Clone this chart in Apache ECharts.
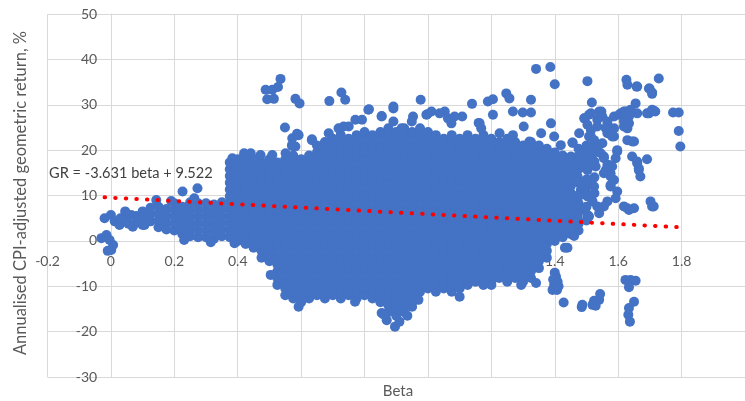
<!DOCTYPE html>
<html><head><meta charset="utf-8">
<script src="https://cdn.jsdelivr.net/npm/echarts@6/dist/echarts.min.js"></script>
<style>html,body{margin:0;padding:0;background:#fff}#c{width:745px;height:401px}</style>
</head><body><div id="c"></div>
<script>
// ---- data ----
const xTitle = 'Beta';
const yTitle = 'Annualised CPI-adjusted geometric return, %';
const equationText = 'GR = -3.631 beta + 9.522';

// left tail of the cloud (beta, list of returns)
const tailBeta = [0.08, 0.1, 0.125, 0.15, 0.175, 0.2, 0.225, 0.25, 0.275, 0.3, 0.325, 0.35, 0.375];
const tailReturns = [
  [4,5.5],
  [3.5,5,6.5],
  [4.3,5.8,7.3],
  [3,4.5,6,7.5],
  [2.5,4,5.5,7],
  [2.3,3.8,5.3,6.8,8.3],
  [1.5,3,4.5,6,7.5],
  [1,2.5,4,5.5,7,8.5],
  [0.8,2.3,3.8,5.3,6.8,8.3],
  [0.8,2.3,3.8,5.3,6.8,8.3],
  [0.5,2,3.5,5,6.5,8],
  [1,2.5,4,5.5,7,8.5],
  [0.8,2.3,3.8,5.3,6.8,8.3,9.8,11.3,12.8,14.3,15.8,17.3]
];

// dense core of the cloud (beta, list of returns)
const coreBeta = [0.4,0.425,0.45,0.475,0.5,0.525,0.55,0.575,0.6,0.625,0.65,0.675,0.7,0.725,0.75,0.775,0.8,0.825,0.85,0.875,0.9,0.925,0.95,0.975,1,1.025,1.05,1.075,1.1,1.125,1.15,1.175,1.2,1.225,1.25,1.275,1.3,1.325,1.35,1.375,1.4,1.425];
const coreReturns = [
  [0,1.5,3,4.5,6,7.5,9,10.5,12,13.5,15,16.5,18],
  [-0.7,0.8,2.3,3.8,5.3,6.8,8.3,9.8,11.3,12.8,14.3,15.8,17.3,18.8],
  [-1.5,0,1.5,3,4.5,6,7.5,9,10.5,12,13.5,15,16.5,18],
  [-3.7,-2.2,-0.7,0.8,2.3,3.8,5.3,6.8,8.3,9.8,11.3,12.8,14.3,15.8,17.3],
  [-4.5,-3,-1.5,0,1.5,3,4.5,6,7.5,9,10.5,12,13.5,15,16.5,18],
  [-9.7,-8.2,-6.7,-5.2,-3.7,-2.2,-0.7,0.8,2.3,3.8,5.3,6.8,8.3,9.8,11.3,12.8,14.3,15.8,17.3],
  [-12,-10.5,-9,-7.5,-6,-4.5,-3,-1.5,0,1.5,3,4.5,6,7.5,9,10.5,12,13.5,15,16.5,18],
  [-12.7,-11.2,-9.7,-8.2,-6.7,-5.2,-3.7,-2.2,-0.7,0.8,2.3,3.8,5.3,6.8,8.3,9.8,11.3,12.8,14.3,15.8,17.3,18.8],
  [-13.5,-12,-10.5,-9,-7.5,-6,-4.5,-3,-1.5,0,1.5,3,4.5,6,7.5,9,10.5,12,13.5,15,16.5,18],
  [-12.7,-11.2,-9.7,-8.2,-6.7,-5.2,-3.7,-2.2,-0.7,0.8,2.3,3.8,5.3,6.8,8.3,9.8,11.3,12.8,14.3,15.8,17.3,18.8],
  [-12,-10.5,-9,-7.5,-6,-4.5,-3,-1.5,0,1.5,3,4.5,6,7.5,9,10.5,12,13.5,15,16.5,18,19.5,21],
  [-12.7,-11.2,-9.7,-8.2,-6.7,-5.2,-3.7,-2.2,-0.7,0.8,2.3,3.8,5.3,6.8,8.3,9.8,11.3,12.8,14.3,15.8,17.3,18.8,20.3,21.8],
  [-12,-10.5,-9,-7.5,-6,-4.5,-3,-1.5,0,1.5,3,4.5,6,7.5,9,10.5,12,13.5,15,16.5,18,19.5,21,22.5],
  [-12.7,-11.2,-9.7,-8.2,-6.7,-5.2,-3.7,-2.2,-0.7,0.8,2.3,3.8,5.3,6.8,8.3,9.8,11.3,12.8,14.3,15.8,17.3,18.8,20.3,21.8,23.3],
  [-12,-10.5,-9,-7.5,-6,-4.5,-3,-1.5,0,1.5,3,4.5,6,7.5,9,10.5,12,13.5,15,16.5,18,19.5,21,22.5],
  [-12.7,-11.2,-9.7,-8.2,-6.7,-5.2,-3.7,-2.2,-0.7,0.8,2.3,3.8,5.3,6.8,8.3,9.8,11.3,12.8,14.3,15.8,17.3,18.8,20.3,21.8,23.3],
  [-12,-10.5,-9,-7.5,-6,-4.5,-3,-1.5,0,1.5,3,4.5,6,7.5,9,10.5,12,13.5,15,16.5,18,19.5,21,22.5,24],
  [-12.7,-11.2,-9.7,-8.2,-6.7,-5.2,-3.7,-2.2,-0.7,0.8,2.3,3.8,5.3,6.8,8.3,9.8,11.3,12.8,14.3,15.8,17.3,18.8,20.3,21.8,23.3],
  [-13.5,-12,-10.5,-9,-7.5,-6,-4.5,-3,-1.5,0,1.5,3,4.5,6,7.5,9,10.5,12,13.5,15,16.5,18,19.5,21,22.5,24],
  [-15.7,-14.2,-12.7,-11.2,-9.7,-8.2,-6.7,-5.2,-3.7,-2.2,-0.7,0.8,2.3,3.8,5.3,6.8,8.3,9.8,11.3,12.8,14.3,15.8,17.3,18.8,20.3,21.8,23.3,24.8],
  [-16.5,-15,-13.5,-12,-10.5,-9,-7.5,-6,-4.5,-3,-1.5,0,1.5,3,4.5,6,7.5,9,10.5,12,13.5,15,16.5,18,19.5,21,22.5,24],
  [-15.7,-14.2,-12.7,-11.2,-9.7,-8.2,-6.7,-5.2,-3.7,-2.2,-0.7,0.8,2.3,3.8,5.3,6.8,8.3,9.8,11.3,12.8,14.3,15.8,17.3,18.8,20.3,21.8,23.3,24.8],
  [-13.5,-12,-10.5,-9,-7.5,-6,-4.5,-3,-1.5,0,1.5,3,4.5,6,7.5,9,10.5,12,13.5,15,16.5,18,19.5,21,22.5,24],
  [-11.2,-9.7,-8.2,-6.7,-5.2,-3.7,-2.2,-0.7,0.8,2.3,3.8,5.3,6.8,8.3,9.8,11.3,12.8,14.3,15.8,17.3,18.8,20.3,21.8,23.3,24.8],
  [-10.5,-9,-7.5,-6,-4.5,-3,-1.5,0,1.5,3,4.5,6,7.5,9,10.5,12,13.5,15,16.5,18,19.5,21,22.5,24],
  [-11.2,-9.7,-8.2,-6.7,-5.2,-3.7,-2.2,-0.7,0.8,2.3,3.8,5.3,6.8,8.3,9.8,11.3,12.8,14.3,15.8,17.3,18.8,20.3,21.8,23.3],
  [-10.5,-9,-7.5,-6,-4.5,-3,-1.5,0,1.5,3,4.5,6,7.5,9,10.5,12,13.5,15,16.5,18,19.5,21,22.5],
  [-11.2,-9.7,-8.2,-6.7,-5.2,-3.7,-2.2,-0.7,0.8,2.3,3.8,5.3,6.8,8.3,9.8,11.3,12.8,14.3,15.8,17.3,18.8,20.3,21.8,23.3],
  [-10.5,-9,-7.5,-6,-4.5,-3,-1.5,0,1.5,3,4.5,6,7.5,9,10.5,12,13.5,15,16.5,18,19.5,21,22.5],
  [-9.7,-8.2,-6.7,-5.2,-3.7,-2.2,-0.7,0.8,2.3,3.8,5.3,6.8,8.3,9.8,11.3,12.8,14.3,15.8,17.3,18.8,20.3,21.8,23.3],
  [-9,-7.5,-6,-4.5,-3,-1.5,0,1.5,3,4.5,6,7.5,9,10.5,12,13.5,15,16.5,18,19.5,21,22.5],
  [-9.7,-8.2,-6.7,-5.2,-3.7,-2.2,-0.7,0.8,2.3,3.8,5.3,6.8,8.3,9.8,11.3,12.8,14.3,15.8,17.3,18.8,20.3,21.8,23.3],
  [-9,-7.5,-6,-4.5,-3,-1.5,0,1.5,3,4.5,6,7.5,9,10.5,12,13.5,15,16.5,18,19.5,21,22.5],
  [-8.2,-6.7,-5.2,-3.7,-2.2,-0.7,0.8,2.3,3.8,5.3,6.8,8.3,9.8,11.3,12.8,14.3,15.8,17.3,18.8,20.3,21.8],
  [-9,-7.5,-6,-4.5,-3,-1.5,0,1.5,3,4.5,6,7.5,9,10.5,12,13.5,15,16.5,18,19.5,21,22.5],
  [-8.2,-6.7,-5.2,-3.7,-2.2,-0.7,0.8,2.3,3.8,5.3,6.8,8.3,9.8,11.3,12.8,14.3,15.8,17.3,18.8,20.3,21.8],
  [-9,-7.5,-6,-4.5,-3,-1.5,0,1.5,3,4.5,6,7.5,9,10.5,12,13.5,15,16.5,18,19.5,21],
  [-8.2,-6.7,-5.2,-3.7,-2.2,-0.7,0.8,2.3,3.8,5.3,6.8,8.3,9.8,11.3,12.8,14.3,15.8,17.3,18.8,20.3,21.8],
  [-6,-4.5,-3,-1.5,0,1.5,3,4.5,6,7.5,9,10.5,12,13.5,15,16.5,18,19.5,21],
  [-3.7,-2.2,-0.7,0.8,2.3,3.8,5.3,6.8,8.3,9.8,11.3,12.8,14.3,15.8,17.3,18.8,20.3],
  [0,1.5,3,4.5,6,7.5,9,10.5,12,13.5,15,16.5,18,19.5],
  [0.8,2.3,3.8,5.3,6.8,8.3,9.8,11.3,12.8,14.3,15.8,17.3,18.8]
];

// individual points outside the dense core: [beta, return]
const outlierPoints = [
  [-0.03,0.6],[-0.014,1.3],[-0.004,0.2],[0.007,-0.9],[0.001,-2],[-0.01,-2.2],[-0.02,5],[0,5.7],[0.012,4.3],[0.027,3.5],[0.049,4.6],[0.064,5.7],[0.069,3.1],[0.03,5],[0.045,6.5],[0.055,3.8],
  [0.143,9],[0.226,10.9],[0.273,11.6],[0.263,9.4],[0.19,8.8],[0.106,3.5],[0.231,0.2],[0.315,-0.3],[0.39,-0.5],
  [0.535,35.7],[0.527,33.9],[0.488,33.3],[0.509,33.3],[0.493,31.2],[0.514,31.3],[0.582,31.3],[0.595,30.3],[0.549,25],[0.572,22.6],[0.587,23.6],[0.572,20.9],[0.634,22.4],
  [0.689,30.8],[0.727,32.7],[0.739,31.1],[0.814,29],[0.891,29.2],[0.854,27.5],[0.977,31.1],[0.998,27.9],[1.053,28.5],[1.037,28.1],[1.139,30.2],[1.189,30.7],[1.205,31.2],[1.205,27.8],[1.108,27.4],[0.953,27.4],[1.16,26],[1.168,24.8],
  [1.247,32.5],[1.257,31.4],[1.325,31.1],[1.268,28.5],[1.299,28.3],[1.325,28.3],[1.302,25.2],[1.163,25.9],[1.388,25.9],[1.456,21.7],[0.949,26.3],[0.995,27.8],[1.011,28.5],[1.084,27.4],[1.074,25.9],[1.226,23.7],[1.268,23.3],[1.32,21.9],[1.357,23.7],[1.398,23],[1.419,21.1],
  [0.383,18.2],[0.42,19.3],[0.441,19.3],[0.472,18.9],[0.509,18.9],[0.551,19.3],[0.582,20.8],[0.571,21.1],[0.592,23.3],[0.634,22.2],[0.687,23.7],[0.718,24.8],[0.75,25.2],[0.771,26.7],[0.792,26.7],[0.812,28.9],[0.854,27.4],[0.891,29.6],[0.891,26.3],[0.922,24.4],[0.734,25.2],[0.917,24.8],[1.063,27],
  [1.341,37.9],[1.386,38.3],[1.4,34.5],[1.503,35.2],[1.626,35.5],[1.629,34.4],[1.66,34],[1.699,33.6],[1.707,32.4],[1.728,35.8],[1.773,28.3],[1.791,28.3],[1.791,24.2],[1.796,20.8],[1.655,30.3],[1.697,28.1],[1.712,28.7],[1.517,30.5],[1.547,28.5],
  [1.494,27],[1.508,27.8],[1.534,26.7],[1.566,25.6],[1.587,27.4],[1.608,28.1],[1.623,28.5],[1.634,27.8],[1.634,25.9],[1.618,25.2],[1.566,23.7],[1.587,23],[1.514,23],[1.629,22.2],[1.644,21.9],[1.534,25.2],[1.524,20.8],[1.477,23.7],[1.456,21.6],[1.644,18.6],[1.66,17.1],[1.665,15.6],[1.67,14.2],[1.691,18],
  [1.597,19.7],[1.592,18.2],[1.581,16.4],[1.576,14.9],[1.587,13.4],[1.555,18.6],[1.566,16.7],[1.555,14.9],[1.576,12.3],[1.597,10.9],
  [1.54,28.5],[1.514,28.1],[1.493,27],[1.503,25.6],[1.55,27.4],[1.566,26.3],[1.603,27.8],[1.618,28.5],[1.639,28.9],[1.66,28.1],[1.634,27.4],[1.618,26.3],[1.629,24.8],[1.587,24.8],[1.571,24.1],[1.581,23],[1.561,24.8],[1.514,24.4],[1.508,23],[1.524,22.2],[1.55,21.5],[1.534,20.4],[1.545,19.3],[1.555,18.2],[1.597,20],[1.65,21.9],[1.571,16.7],[1.561,15.6],[1.576,14.2],[1.66,17.5],[1.665,16],[1.576,12],[1.592,9.4],[1.566,8.7],[1.555,7.6],[1.54,6.1],[1.629,7.2],[1.65,7.2],[1.702,8.7],[1.712,7.6],[1.508,5.4],[1.691,28.1],[1.707,28.9],[1.717,28.5],[1.697,33.6],[1.707,32.7],[1.658,34],[1.618,7.6],[1.634,6.8],[1.707,7.6],
  [1.451,18.6],[1.482,17.8],[1.514,18.6],[1.529,16.4],[1.503,15.6],[1.472,14.2],[1.514,13.4],[1.524,12],[1.482,11.2],[1.503,9.8],[1.456,10.1],[1.466,8.7],[1.519,8.7],[1.534,7.6],[1.493,6.8],[1.472,5.4],[1.446,5],[1.451,3.2],
  [1.45,1.5],[1.45,3],[1.45,4.5],[1.45,6],[1.45,7.5],[1.45,9],[1.45,10.5],[1.45,12],[1.45,13.5],[1.45,15],[1.45,16.5],[1.45,18],
  [1.475,2.3],[1.475,3.8],[1.475,6.8],[1.475,8.3],[1.475,9.8],[1.475,12.8],[1.475,15.8],[1.475,17.3],[1.475,18.8],[1.475,20.3],
  [1.5,4.5],[1.5,7.5],[1.5,10.5],[1.5,12],[1.5,13.5],[1.5,16.5],[1.5,18],[1.5,19.5],[1.5,21],[1.525,10.5],[1.525,14],[1.525,17.5],[1.525,19.5],
  [1.435,2],[1.445,3.5],[1.456,1.7],[1.461,1.1],[1.44,-1.5],[1.432,-1.5],[1.471,4.6],[1.503,5.7],
  [1.404,-7.9],[1.409,-9],[1.398,-9.7],[1.393,-10.8],[1.407,-10.8],[1.412,-10],[1.428,-13.6],[1.485,-14.6],[1.487,-14.1],[1.519,-14.1],[1.524,-13.2],[1.54,-13],[1.543,-11.7],[1.529,-14.3],
  [1.623,-8.6],[1.639,-8.6],[1.655,-8.8],[1.634,-10.2],[1.65,-13.4],[1.634,-14.8],[1.632,-16.3],[1.637,-17.8],[1.341,-9.3],[1.294,-9.7],[1.2,-9.7],[1.1,-12.3],[1.4,-7],[1.395,-8.5],
  [0.504,-7.5],[0.592,-14.5],[0.77,-13.4],[0.854,-15.9],[0.87,-17.5],[0.896,-18.9],[0.91,-17.8],[0.935,-16.5],[0.86,-16.2],[0.95,-14.5],[0.97,-13]
];

// fitted trendline GR = -3.631 beta + 9.522, over the beta range of the data
const trendBeta = [-0.02, 1.79];
const trendReturn = [9.595, 3.022];

// ---- build series data ----
const scatterData = [];
tailBeta.forEach((b, i) => tailReturns[i].forEach(r => scatterData.push([b, r])));
coreBeta.forEach((b, i) => coreReturns[i].forEach(r => scatterData.push([b, r])));
outlierPoints.forEach(p => scatterData.push(p));
const trendData = trendBeta.map((b, i) => [b, trendReturn[i]]);

const FONT = 'Lato, "Open Sans", sans-serif';
const grey = '#d9d9d9';
const G = {left: 47.5, top: 14, width: 700.5, height: 363};
const X_MIN = -0.2, X_MAX = 2, Y_MIN = -30, Y_MAX = 50;
// axes cross at zero, as in the reference: shift each axis (and its labels) onto the other axis' zero
const xAxisShift = -(G.height * (0 - Y_MIN) / (Y_MAX - Y_MIN));
const yAxisShift = -(G.width * (0 - X_MIN) / (X_MAX - X_MIN));

const chart = echarts.init(document.getElementById('c'), null, {renderer: 'canvas'});
chart.setOption({
  animation: false,
  backgroundColor: '#ffffff',
  grid: Object.assign({containLabel: false}, G),
  xAxis: {
    type: 'value', min: X_MIN, max: X_MAX, interval: 0.2, position: 'bottom', offset: xAxisShift,
    axisLine: {show: true, onZero: false, lineStyle: {color: grey, width: 1}},
    axisTick: {show: false},
    splitLine: {show: true, lineStyle: {color: grey, width: 1}},
    axisLabel: {color: '#595959', fontFamily: FONT, fontSize: 14, margin: 14, showMaxLabel: false}
  },
  yAxis: {
    type: 'value', min: Y_MIN, max: Y_MAX, interval: 10, position: 'left', offset: yAxisShift,
    axisLine: {show: true, onZero: false, lineStyle: {color: grey, width: 1}},
    axisTick: {show: false},
    splitLine: {show: true, lineStyle: {color: grey, width: 1}},
    axisLabel: {color: '#595959', fontFamily: FONT, fontSize: 14, margin: 14}
  },
  series: [
    {type: 'scatter', data: scatterData, symbol: 'circle', symbolSize: 10,
     itemStyle: {color: '#4472C4', opacity: 1}, z: 2, silent: true, large: false},
    {type: 'line', data: trendData, showSymbol: false, symbol: 'none', z: 3, silent: true,
     lineStyle: {color: '#ff0000', width: 4, type: [0.5, 10.1], cap: 'round'}}
  ],
  graphic: [
    {type: 'text', x: 49, y: 173, z: 10,
     style: {text: equationText, fill: '#404040', font: '14.6px ' + FONT, textAlign: 'left', textVerticalAlign: 'middle', align: 'left', verticalAlign: 'middle'}},
    {type: 'text', x: 398, y: 391, z: 10,
     style: {text: xTitle, fill: '#595959', font: '15px ' + FONT, textAlign: 'center', textVerticalAlign: 'middle', align: 'center', verticalAlign: 'middle'}},
    {type: 'text', x: 21, y: 193, rotation: Math.PI / 2, z: 10,
     style: {text: yTitle, fill: '#595959', font: '16.5px ' + FONT, textAlign: 'center', textVerticalAlign: 'middle', align: 'center', verticalAlign: 'middle'}}
  ]
});
</script>
</body></html>
